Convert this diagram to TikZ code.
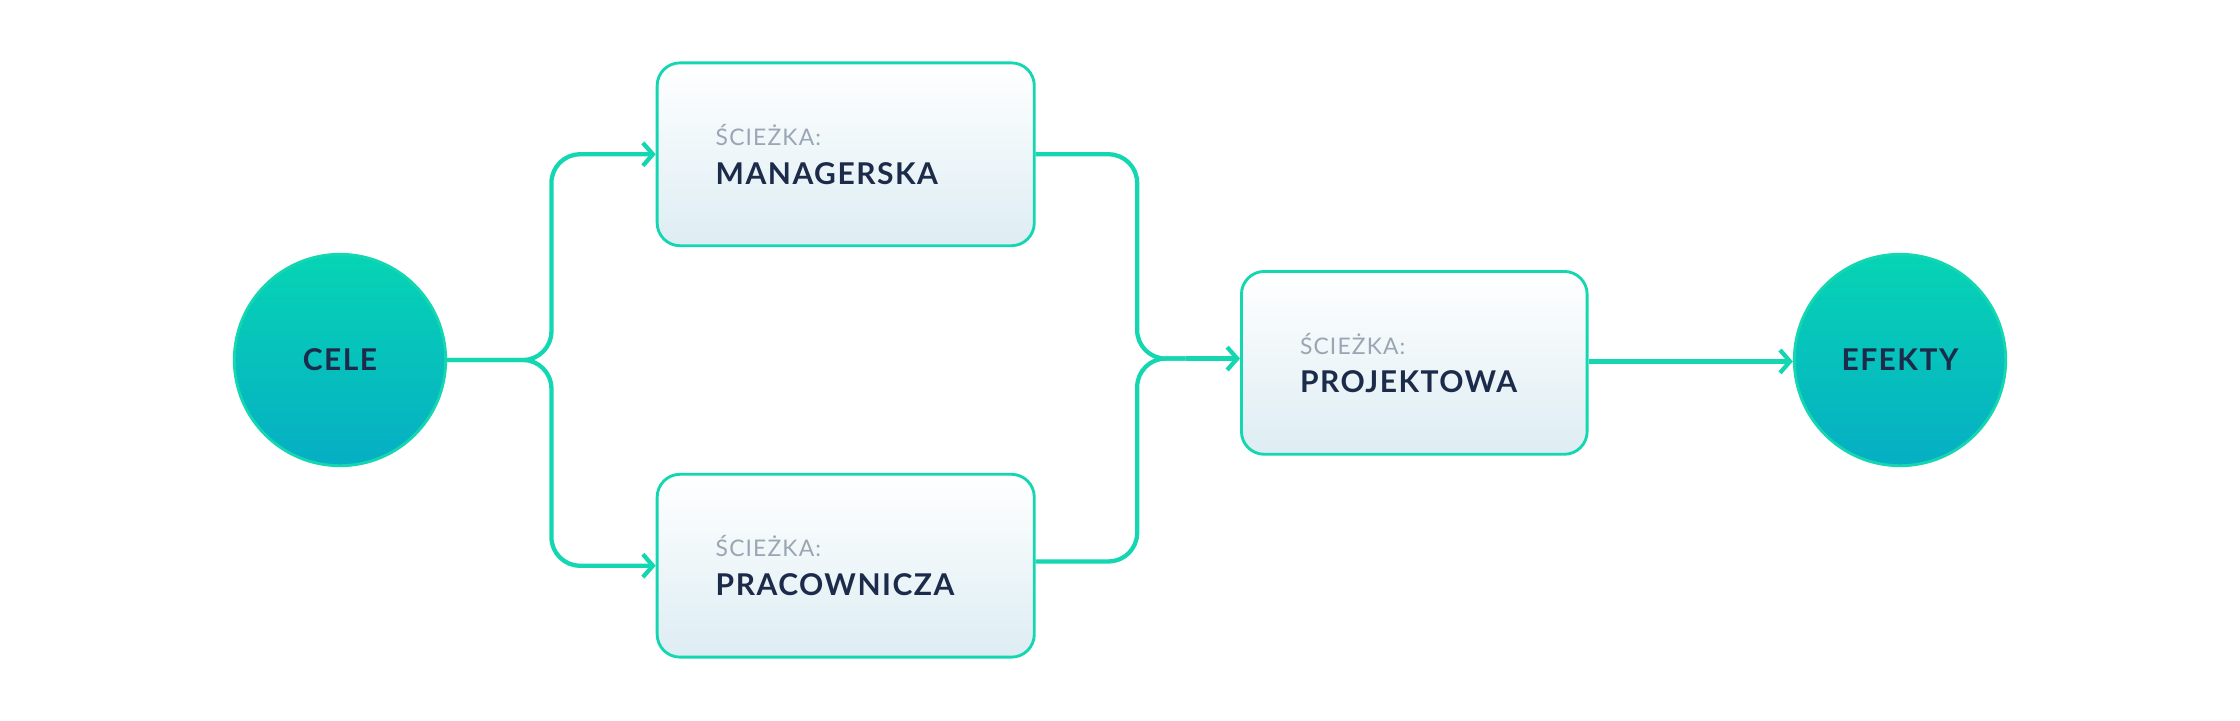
\documentclass[tikz,border=0pt]{standalone}
\usepackage{fontspec}
\setmainfont{Lato}
\usetikzlibrary{arrows.meta,positioning}
\definecolor{linia}{HTML}{14D6B0}
\definecolor{granat}{HTML}{1C2B4A}
\definecolor{szary}{HTML}{9AA6B4}
\definecolor{turkus}{HTML}{06D4B4}
\definecolor{morski}{HTML}{06AEC4}
\definecolor{blekit}{HTML}{DDEDF3}
\newcommand{\etap}[1]{{\fontsize{16}{27}\selectfont\addfontfeatures{LetterSpace=5}\color{szary}ŚCIEŻKA:}\\
  {\fontsize{21}{27}\selectfont\bfseries\addfontfeatures{LetterSpace=5}\color{granat}#1}}
\begin{document}
\begin{tikzpicture}[x=1pt,y=-1pt]
  \useasboundingbox (0,0) rectangle (1568,504);

  % Style.
  \tikzset{
    cel/.style={circle, draw=linia, line width=2pt, minimum size=148pt, inner sep=0pt,
      top color=turkus, bottom color=morski, text=granat,
      font=\fontsize{21}{22}\selectfont\bfseries\addfontfeatures{LetterSpace=5}},
    sciezka/.style={rectangle, rounded corners=16pt, draw=linia, line width=2pt,
      top color=white, bottom color=blekit, anchor=north west,
      font=\fontsize{21}{27}\selectfont,
      minimum height=128pt, text width=182pt, inner xsep=41pt, align=left},
    przejscie/.style={draw=linia, line width=3pt, rounded corners=20pt,
      -{Straight Barb[length=7pt,width=16pt,line width=3pt]}},
    polaczenie/.style={draw=linia, line width=3pt, rounded corners=20pt}
  }

  % Wezly.
  \node[cel] (cele) at (238,252) {CELE};
  \node[cel] (efekty) at (1330,252) {EFEKTY};
  \node[sciezka, minimum width=264pt] (managerska) at (459,43) {\etap{MANAGERSKA}};
  \node[sciezka, minimum width=264pt] (pracownicza) at (459,331) {\etap{PRACOWNICZA}};
  \node[sciezka, text width=160pt, minimum width=242pt] (projektowa) at (868,189) {\etap{PROJEKTOWA}};

  % Punkty zalaman.
  \coordinate (rozw) at (386,252);
  \coordinate (zbieg) at (796,251);

  % Polaczenia.
  \path[przejscie] (cele.east) -- (rozw) -- (386,108) -- (managerska.west |- 0,108);
  \path[przejscie] (cele.east) -- (rozw) -- (386,396) -- (pracownicza.west |- 0,396);
  \path[polaczenie] (managerska.east |- 0,108) -- (796,108) -- (zbieg) -- (830,251);
  \path[polaczenie] (pracownicza.east |- 0,393) -- (796,393) -- (zbieg) -- (830,251);
  \path[przejscie] (830,251) -- (projektowa.west |- 0,251);
  \path[przejscie] (projektowa.east |- 0,253) -- (efekty.west |- 0,253);
\end{tikzpicture}
\end{document}
